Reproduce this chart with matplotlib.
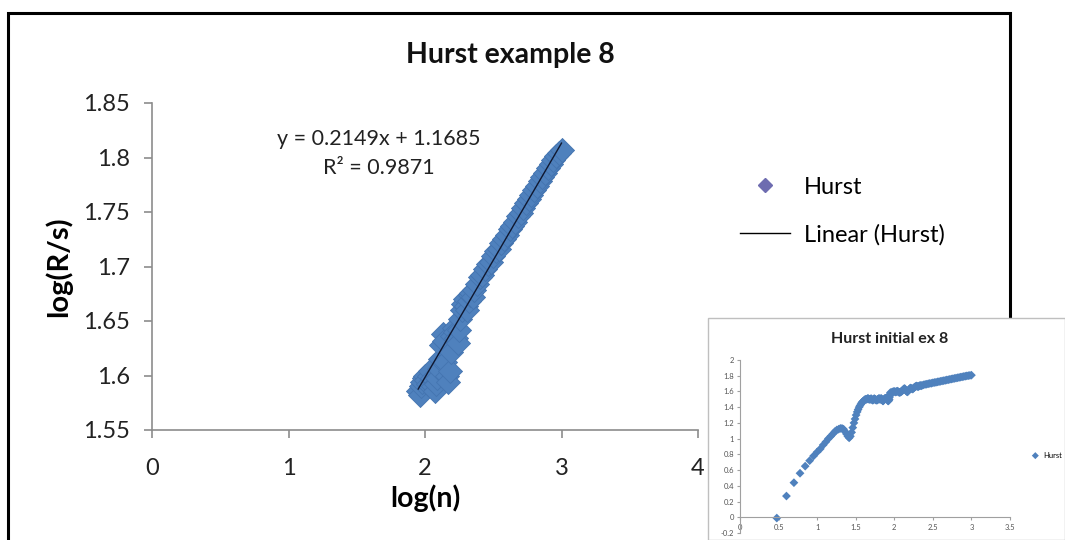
import matplotlib
matplotlib.use("Agg")
import matplotlib.pyplot as plt
from matplotlib.lines import Line2D
from matplotlib.patches import Rectangle

plt.rcParams['font.family'] = ['Lato', 'DejaVu Sans']

# data: log(n) vs log(R/s)
logn_main = [1.95, 1.96, 1.97, 1.98, 1.99, 2.00, 2.01, 2.02, 2.03, 2.04,
             2.05, 2.06, 2.07, 2.08, 2.09, 2.10, 2.11, 2.12, 2.13, 2.14,
             2.15, 2.16, 2.17, 2.18, 2.19, 2.20, 2.21, 2.22, 2.23, 2.24,
             2.25, 2.26, 2.27, 2.28, 2.29, 2.30, 2.31, 2.32, 2.33, 2.34,
             2.35, 2.36, 2.38, 2.40, 2.42, 2.44, 2.46, 2.48, 2.50, 2.52,
             2.54, 2.56, 2.58, 2.60, 2.62, 2.64, 2.66, 2.68, 2.70, 2.72,
             2.74, 2.76, 2.78, 2.80, 2.82, 2.84, 2.86, 2.88, 2.90, 2.92,
             2.94, 2.96, 2.98, 3.00]
logrs_main = [1.586, 1.582, 1.590, 1.594, 1.598, 1.600, 1.596, 1.592, 1.600, 1.604,
              1.598, 1.590, 1.586, 1.592, 1.598, 1.606, 1.615, 1.628, 1.638, 1.632,
              1.612, 1.600, 1.594, 1.604, 1.622, 1.636, 1.644, 1.640, 1.634, 1.630,
              1.642, 1.652, 1.660, 1.666, 1.670, 1.664, 1.660, 1.668, 1.674, 1.676,
              1.672, 1.678, 1.684, 1.690, 1.692, 1.698, 1.702, 1.704, 1.710, 1.714,
              1.716, 1.722, 1.725, 1.729, 1.734, 1.737, 1.741, 1.746, 1.749, 1.754,
              1.758, 1.762, 1.766, 1.770, 1.774, 1.778, 1.782, 1.786, 1.790, 1.794,
              1.798, 1.801, 1.804, 1.807]

# the start of the series, only shown in the small chart
logn_start = [0.477, 0.602, 0.699, 0.778, 0.845, 0.903, 0.954, 1.000, 1.041, 1.079,
              1.114, 1.146, 1.176, 1.204, 1.230, 1.255, 1.279, 1.301, 1.322, 1.342,
              1.362, 1.380, 1.398, 1.415, 1.431, 1.447, 1.462, 1.477, 1.491, 1.505,
              1.519, 1.531, 1.544, 1.556, 1.568, 1.580, 1.591, 1.602, 1.613, 1.623,
              1.633, 1.643, 1.653, 1.663, 1.672, 1.681, 1.690, 1.699, 1.708, 1.716,
              1.724, 1.732, 1.740, 1.748, 1.756, 1.763, 1.771, 1.778, 1.785, 1.792,
              1.799, 1.806, 1.813, 1.820, 1.826, 1.833, 1.839, 1.845, 1.851, 1.857,
              1.863, 1.869, 1.875, 1.881, 1.886, 1.892, 1.898, 1.903, 1.908, 1.914,
              1.919, 1.924, 1.929, 1.934, 1.940, 1.944]
logrs_start = [-0.01, 0.27, 0.44, 0.56, 0.65, 0.72, 0.78, 0.83, 0.87, 0.92,
               0.96, 1.00, 1.03, 1.06, 1.09, 1.11, 1.12, 1.13, 1.13, 1.12,
               1.09, 1.06, 1.03, 1.01, 1.03, 1.08, 1.14, 1.20, 1.25, 1.30,
               1.34, 1.37, 1.40, 1.42, 1.44, 1.46, 1.47, 1.48, 1.49, 1.50,
               1.50, 1.50, 1.51, 1.51, 1.50, 1.50, 1.50, 1.51, 1.50, 1.49,
               1.49, 1.50, 1.51, 1.50, 1.50, 1.49, 1.49, 1.49, 1.50, 1.50,
               1.51, 1.51, 1.50, 1.50, 1.51, 1.51, 1.50, 1.49, 1.48, 1.48,
               1.49, 1.50, 1.51, 1.51, 1.51, 1.51, 1.52, 1.52, 1.51, 1.49,
               1.48, 1.48, 1.49, 1.50, 1.53, 1.56]

slope, intercept = 0.2149, 1.1685
r2 = 0.9871

blue = '#4F81BD'
W, H = 1065, 540

fig = plt.figure(figsize=(W / 100, H / 100), dpi=100)
fig.patch.set_facecolor('white')

# outer frame of the big chart
fig.add_artist(Rectangle((8 / W, -0.05), 1002 / W, (H - 13) / H + 0.05,
                         transform=fig.transFigure, fill=False,
                         edgecolor='black', linewidth=2.2, zorder=1))

ax = fig.add_axes([152 / W, 1 - 430 / H, 546 / W, 327 / H])
ax.scatter(logn_main, logrs_main, marker='D', s=150, color=blue,
           edgecolors='#4474B0', linewidths=0.6, zorder=2)
xfit = [logn_main[0], logn_main[-1]]
yfit = [slope * v + intercept for v in xfit]
ax.plot(xfit, yfit, color='#101830', linewidth=1.0, zorder=3)

ax.set_xlim(0, 4)
ax.set_ylim(1.55, 1.85)
ax.set_xticks([0, 1, 2, 3, 4])
ax.set_yticks([1.55, 1.6, 1.65, 1.7, 1.75, 1.8, 1.85])
ax.set_yticklabels(['1.55', '1.6', '1.65', '1.7', '1.75', '1.8', '1.85'])
for s in ['top', 'right']:
    ax.spines[s].set_visible(False)
for s in ['left', 'bottom']:
    ax.spines[s].set_color('#8C8C8C')
    ax.spines[s].set_linewidth(1.2)
ax.tick_params(axis='both', colors='#8C8C8C', labelcolor='#222222',
               labelsize=17, length=6, width=1.2)
ax.tick_params(axis='x', pad=14)
ax.tick_params(axis='y', pad=10)
ax.set_xlabel('log(n)', fontsize=20.5, fontweight='bold', labelpad=4)
ax.set_ylabel('log(R/s)', fontsize=21, fontweight='bold', labelpad=8)

fig.text(510 / W, 1 - 55 / H, 'Hurst example 8', fontsize=20.5,
         fontweight='bold', ha='center', va='center', color='#111111')

ax.text(0.415, 0.845, 'y = %.4fx + %.4f\nR\u00b2 = %.4f' % (slope, intercept, r2),
        transform=ax.transAxes, ha='center', va='center', fontsize=15.5,
        color='#222222', linespacing=1.55, multialignment='center')

handles = [Line2D([], [], marker='D', linestyle='none', color='#6E6CB0',
                  markersize=7.5),
           Line2D([], [], color='black', linewidth=1.0)]
fig.legend(handles, ['Hurst', 'Linear (Hurst)'], loc='center left',
           bbox_to_anchor=(719 / W, 1 - 211 / H), frameon=False, fontsize=17,
           handlelength=2.1, labelspacing=1.1, handletextpad=0.6)

# small chart pasted on the lower right
fig.add_artist(Rectangle((708 / W, 0), (W - 708) / W, (H - 318) / H,
                         transform=fig.transFigure, facecolor='white',
                         edgecolor='#BFBFBF', linewidth=1.0, zorder=5))

ins = fig.add_axes([740 / W, 1 - 533 / H, 270 / W, 173 / H], zorder=6)
ins.patch.set_alpha(0)
ins.scatter(logn_start + logn_main, logrs_start + logrs_main, marker='D', s=20,
            color=blue, edgecolors='none', label='Hurst', zorder=2)
ins.set_xlim(0, 3.5)
ins.set_ylim(-0.2, 2)
ins.set_xticks([0, 0.5, 1, 1.5, 2, 2.5, 3, 3.5])
ins.set_xticklabels(['0', '0.5', '1', '1.5', '2', '2.5', '3', '3.5'])
ins.set_yticks([-0.2, 0, 0.2, 0.4, 0.6, 0.8, 1, 1.2, 1.4, 1.6, 1.8, 2])
ins.set_yticklabels(['-0.2', '0', '0.2', '0.4', '0.6', '0.8', '1', '1.2',
                     '1.4', '1.6', '1.8', '2'])
ins.spines['bottom'].set_position(('data', 0))
for s in ['top', 'right']:
    ins.spines[s].set_visible(False)
for s in ['left', 'bottom']:
    ins.spines[s].set_color('#A0A0A0')
    ins.spines[s].set_linewidth(0.8)
ins.tick_params(axis='both', colors='#A0A0A0', labelcolor='#555555',
                labelsize=5.5, length=2.5, width=0.8, pad=2)
fig.text(890 / W, 1 - 339 / H, 'Hurst initial ex 8', fontsize=11.5,
         fontweight='bold', ha='center', va='center', color='#222222',
         zorder=7)
ins.legend(loc='center left', bbox_to_anchor=(1.04, 0.45), frameon=False,
           fontsize=5.5, handletextpad=0.1, markerscale=0.8)

fig.savefig('out.png', dpi=100, facecolor='white')
